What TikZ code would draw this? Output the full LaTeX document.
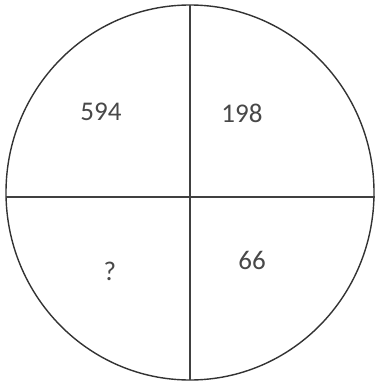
\documentclass[tikz,border=0pt]{standalone}
\usepackage{fontspec}
\setmainfont{Carlito}
\definecolor{rimLine}{HTML}{333333}
\definecolor{crossLine}{HTML}{404040}
\definecolor{numText}{HTML}{484848}

\begin{document}
\begin{tikzpicture}[
  x=1pt, y=-1pt,
  num/.style={font=\fontsize{27}{32}\selectfont, text=numText, inner sep=0pt},
  rim/.style={draw=rimLine, line width=1.4pt},
  cross/.style={draw=crossLine, line width=2pt}
]

\useasboundingbox (0,0) rectangle (376,387);

% =========================================================
% CIRCLE AND CROSS
% =========================================================

\coordinate (mid) at (190,192.5);
\draw[rim] (mid) ellipse [x radius=184, y radius=187.5];

\coordinate (top) at (190.3,5);
\coordinate (bottom) at (190.3,380);
\coordinate (left) at (6,197.3);
\coordinate (right) at (374.5,197.3);

\draw[cross] (top) -- (bottom);
\draw[cross] (left) -- (right);

% =========================================================
% NUMBERS
% =========================================================

\node[num] (nw) at (101,112) {594};
\node[num] (ne) at (242,113) {198};
\node[num] (sw) at (110,271) {?};
\node[num] (se) at (252,260) {66};

\end{tikzpicture}
\end{document}
